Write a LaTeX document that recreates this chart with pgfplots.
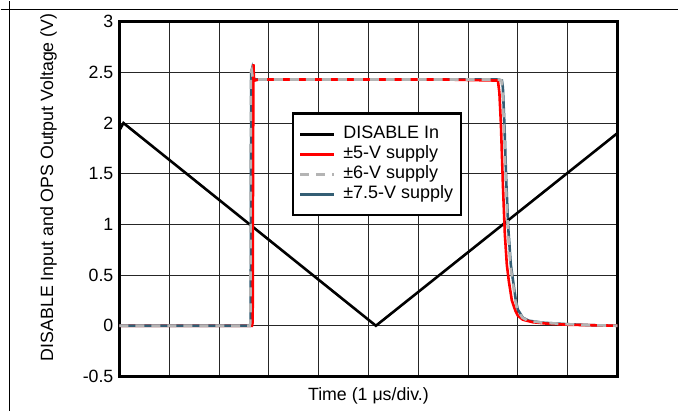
\documentclass[border=0pt]{standalone}
\usepackage{pgfplots}
\pgfplotsset{compat=1.18}
\usepackage{fontspec}
\setmainfont{Liberation Sans}
\definecolor{teal75}{RGB}{52,94,116}
\definecolor{gray6}{RGB}{180,180,180}
\begin{document}
\begin{tikzpicture}[x=1pt,y=1pt]
\fontsize{17.8}{21}\selectfont
\path (0,0) rectangle (679,411);
\draw[line width=1.5pt] (0,402) -- (679,402);
\draw[line width=1.5pt] (9,0) -- (9,411);
\node[rotate=90] at (48,224) {DISABLE Input and OPS Output Voltage (V)};
\begin{axis}[
 at={(119pt,34.5pt)}, anchor=south west,
 width=499pt, height=355.5pt, scale only axis,
 font=\fontsize{17.8}{21}\selectfont,
 xmin=0, xmax=10, ymin=-0.5, ymax=3,
 xtick={0,1,2,3,4,5,6,7,8,9,10}, xticklabels={},
 ytick={-0.5,0,0.5,1,1.5,2,2.5,3},
 yticklabels={-0.5,0,0.5,1,1.5,2,2.5,3},
 major tick length=0pt,
 grid=major, major grid style={line width=0.9pt, black!85},
 axis line style={line width=2.5pt},
 xlabel={Time (1 μs/div.)},
 xlabel style={at={(axis description cs:0.5,0)}, anchor=center, yshift=-20pt},
 legend style={at={(axis cs:3.46,2.105)}, anchor=north west, draw=black, line width=2.2pt,
   font=\fontsize{18}{21}\selectfont,
   inner xsep=6pt, inner ysep=11pt, row sep=0pt, column sep=6pt,
   nodes={inner sep=2pt, text height=12.5pt, text depth=3.5pt}},
 legend cell align=left,
 legend image code/.code={\draw[#1] (0pt,0pt) -- (34pt,0pt);},
]
% red, part under the 7.5-V trace (zero level before the rising edge)
\addplot[red, line width=2.6pt, forget plot] coordinates {
(0,0) (2.66,0) (2.675,0.05)};
\addplot[teal75, line width=2.6pt, forget plot] coordinates {
(0,0) (2.62,0) (2.635,0.03) (2.64,1.2) (2.645,2.5) (2.66,2.53) (2.68,2.45) (2.72,2.43)
(3.5,2.43) (4.5,2.43) (5.5,2.43) (6.5,2.43) (7.6,2.43) (7.68,2.42) (7.70,2.35) (7.73,2.0)
(7.77,1.4) (7.81,0.95) (7.86,0.6) (7.92,0.39) (7.96,0.25) (8.0,0.16) (8.1,0.08)
(8.22,0.05) (8.5,0.03) (9.0,0.015) (9.5,0.005) (10,0)};
\addplot[black, line width=2.6pt] coordinates {(0,1.93) (0.08,2.0) (5.15,0) (10,1.9)};
\addlegendentry{DISABLE In}
\addplot[red, line width=2.6pt] coordinates {
(2.66,0) (2.675,0.05) (2.68,1.2) (2.69,2.58) (2.70,2.45) (2.72,2.42) (2.8,2.43)
(3.5,2.43) (4.5,2.43) (5.5,2.43) (6.5,2.43) (7.5,2.42) (7.6,2.42) (7.63,2.3) (7.66,2.0)
(7.7,1.4) (7.74,0.9) (7.78,0.6) (7.82,0.44) (7.88,0.25) (7.95,0.15) (8.0,0.1) (8.1,0.06)
(8.3,0.035) (8.6,0.02) (9.0,0.01) (9.5,0.005) (10,0)};
\addlegendentry{±5-V supply}
\addplot[gray6, line width=2.6pt, dash pattern=on 9pt off 7pt] coordinates {
(0,0) (2.615,0) (2.63,0.03) (2.635,1.2) (2.64,2.5) (2.655,2.52) (2.675,2.45) (2.72,2.43)
(3.5,2.43) (4.5,2.43) (5.5,2.43) (6.5,2.43) (7.6,2.43) (7.67,2.42) (7.69,2.35) (7.72,2.0)
(7.76,1.4) (7.80,0.95) (7.85,0.6) (7.91,0.39) (7.95,0.25) (7.99,0.16) (8.09,0.08)
(8.2,0.05) (8.5,0.03) (9.0,0.015) (9.5,0.005) (10,0)};
\addlegendentry{±6-V supply}
\addlegendimage{teal75, line width=2.6pt}
\addlegendentry{±7.5-V supply}
\end{axis}
\end{tikzpicture}
\end{document}
